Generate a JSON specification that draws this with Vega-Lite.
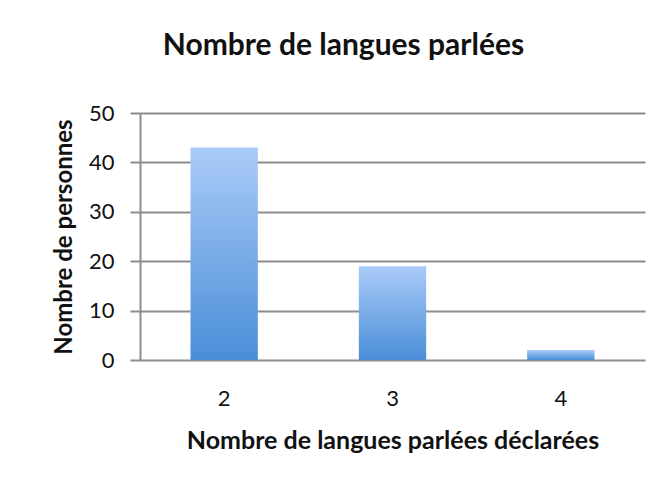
{
  "$schema": "https://vega.github.io/schema/vega-lite/v6.json",
  "autosize": "none",
  "width": 505,
  "height": 247,
  "padding": {"left": 140, "top": 113, "right": 27, "bottom": 121},
  "background": "white",
  "title": {
    "text": "Nombre de langues parlées",
    "font": "Lato",
    "fontSize": 30,
    "fontWeight": "bold",
    "color": "#111111",
    "anchor": "middle",
    "dx": -49,
    "offset": 41
  },
  "data": {
    "values": [
      {"langues": "2", "personnes": 43},
      {"langues": "3", "personnes": 19},
      {"langues": "4", "personnes": 2}
    ]
  },
  "mark": {
    "type": "bar",
    "color": {
      "gradient": "linear",
      "x1": 0, "y1": 0, "x2": 0, "y2": 1,
      "stops": [
        {"offset": 0, "color": "#aacbf8"},
        {"offset": 1, "color": "#4a8ed8"}
      ]
    }
  },
  "encoding": {
    "x": {
      "field": "langues",
      "type": "ordinal",
      "scale": {"paddingInner": 0.6, "paddingOuter": 0.3},
      "axis": {
        "title": "Nombre de langues parlées déclarées",
        "labelAngle": 0,
        "ticks": false,
        "domain": false,
        "labelPadding": 28,
        "titlePadding": 19,
        "labelFontSize": 22,
        "titleFontSize": 25,
        "labelFont": "Lato",
        "titleFont": "Lato",
        "labelColor": "#111111",
        "titleColor": "#111111",
        "titleFontWeight": "bold"
      }
    },
    "y": {
      "field": "personnes",
      "type": "quantitative",
      "scale": {"domain": [0, 50]},
      "axis": {
        "title": "Nombre de personnes",
        "values": [0, 10, 20, 30, 40, 50],
        "grid": true,
        "gridColor": "#8c8c8c",
        "gridWidth": 2,
        "gridOpacity": 1,
        "tickColor": "#8c8c8c",
        "tickWidth": 2,
        "tickSize": 10,
        "domainColor": "#8c8c8c",
        "domainWidth": 2,
        "labelPadding": 16,
        "titlePadding": 12,
        "labelFontSize": 22,
        "titleFontSize": 24,
        "labelFont": "Lato",
        "titleFont": "Lato",
        "labelColor": "#111111",
        "titleColor": "#111111",
        "titleFontWeight": "bold"
      }
    }
  },
  "config": {"view": {"stroke": null}}
}
